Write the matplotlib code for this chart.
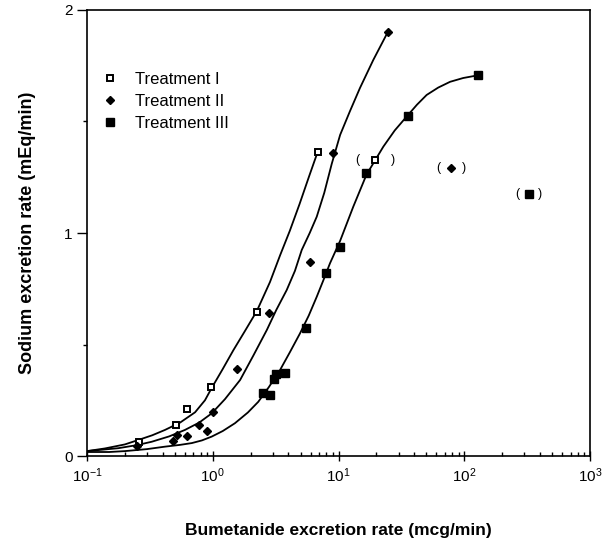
import matplotlib
matplotlib.use('Agg')
import matplotlib.pyplot as plt
from matplotlib.ticker import LogLocator, NullFormatter, FixedLocator

plt.rcParams['font.family'] = ['Liberation Sans', 'DejaVu Sans']
plt.rcParams['mathtext.fontset'] = 'custom'
plt.rcParams['mathtext.rm'] = 'Liberation Sans'

# measured points (bumetanide mcg/min, sodium mEq/min)
t1_x = [0.26, 0.507, 0.628, 0.968, 2.24, 6.84]
t1_y = [0.061, 0.139, 0.212, 0.309, 0.644, 1.365]
t2_x = [0.251, 0.485, 0.517, 0.628, 0.781, 0.895, 1.0, 1.57, 2.82, 5.93, 8.99, 24.6]
t2_y = [0.046, 0.069, 0.094, 0.090, 0.139, 0.112, 0.196, 0.390, 0.643, 0.869, 1.360, 1.900]
t3_x = [2.49, 2.85, 3.08, 3.17, 3.73, 5.52, 7.88, 10.2, 16.5, 35.5, 128]
t3_y = [0.284, 0.272, 0.344, 0.368, 0.371, 0.574, 0.819, 0.939, 1.268, 1.525, 1.707]

# excluded points shown in brackets
out_x = [19.6, 78.5, 325]
out_y = [1.327, 1.290, 1.174]

# fitted curves
c1_x = [0.1, 0.139, 0.2, 0.256, 0.33, 0.417, 0.55, 0.723, 0.867, 0.98, 1.2, 1.46, 1.8, 2.24,
        2.85, 3.43, 4.1, 4.9, 5.8, 6.84]
c1_y = [0.022, 0.034, 0.052, 0.072, 0.093, 0.117, 0.150, 0.196, 0.250, 0.305, 0.390, 0.475,
        0.560, 0.650, 0.780, 0.900, 1.010, 1.130, 1.250, 1.365]
c2_x = [0.1, 0.177, 0.25, 0.327, 0.45, 0.601, 0.78, 0.98, 1.25, 1.65, 2.1, 2.69, 3.2, 3.87,
        4.5, 5.10, 5.9, 6.71, 7.7, 8.83, 10.3, 12.3, 14.8, 18.9, 24.6]
c2_y = [0.022, 0.035, 0.049, 0.064, 0.088, 0.117, 0.150, 0.191, 0.255, 0.341, 0.450, 0.565,
        0.655, 0.744, 0.830, 0.924, 1.000, 1.073, 1.180, 1.310, 1.440, 1.545, 1.650, 1.776, 1.900]
c3_x = [0.1, 0.15, 0.2, 0.3, 0.417, 0.55, 0.681, 0.82, 0.98, 1.2, 1.5, 1.9, 2.3, 2.8, 3.43,
        4.1, 4.94, 5.8, 6.71, 7.6, 8.55, 10.3, 13.1, 16.7, 22.7, 28.0, 34.8, 42.0, 50.2, 62.0,
        77.1, 98.0, 128]
c3_y = [0.018, 0.018, 0.022, 0.031, 0.042, 0.050, 0.058, 0.070, 0.087, 0.112, 0.147, 0.195,
        0.243, 0.310, 0.386, 0.465, 0.550, 0.630, 0.714, 0.790, 0.864, 0.965, 1.118, 1.262,
        1.387, 1.460, 1.522, 1.575, 1.619, 1.652, 1.678, 1.695, 1.707]

fig = plt.figure(figsize=(6.03, 5.46), dpi=100)
ax = fig.add_axes([0.1443, 0.1648, 0.8342, 0.8169])

lw = 1.3
ax.plot(c1_x, c1_y, color='black', lw=lw)
ax.plot(c2_x, c2_y, color='black', lw=lw)
ax.plot(c3_x, c3_y, color='black', lw=lw)

ax.plot(t1_x, t1_y, 's', ms=5, mfc='white', mec='black', mew=1.4, ls='none', label='Treatment I')
ax.plot(t2_x, t2_y, 'D', ms=4.2, color='black', ls='none', label='Treatment II')
ax.plot(t3_x, t3_y, 's', ms=5.5, color='black', ls='none', label='Treatment III')

ax.plot(out_x[0], out_y[0], 's', ms=5, mfc='white', mec='black', mew=1.4)
ax.plot(out_x[1], out_y[1], 'D', ms=4.2, color='black')
ax.plot(out_x[2], out_y[2], 's', ms=5.5, color='black')
for ox, oy, gap in zip(out_x, out_y, [13, 9, 8]):
    ax.annotate('(', (ox, oy), xytext=(-gap, 0), textcoords='offset points',
                ha='center', va='center', fontsize=9)
    ax.annotate(')', (ox, oy), xytext=(gap, 0), textcoords='offset points',
                ha='center', va='center', fontsize=9)

ax.set_xscale('log')
ax.set_xlim(0.1, 1000)
ax.set_ylim(0, 2)
ax.xaxis.set_major_locator(LogLocator(base=10, numticks=10))
ax.xaxis.set_minor_locator(LogLocator(base=10, subs=range(2, 10), numticks=10))
ax.xaxis.set_minor_formatter(NullFormatter())
ax.yaxis.set_major_locator(FixedLocator([0, 1, 2]))
ax.yaxis.set_minor_locator(FixedLocator([0.5, 1.5]))
ax.set_yticklabels(['0', '1', '2'])

ax.tick_params(axis='x', which='major', direction='inout', length=7, width=1, labelsize=11, pad=4)
ax.tick_params(axis='x', which='minor', direction='in', length=3, width=1)
ax.tick_params(axis='y', which='major', direction='out', length=7, width=1, labelsize=11)
ax.tick_params(axis='y', which='minor', direction='out', length=3, width=1)
for s in ax.spines.values():
    s.set_linewidth(1.2)

ax.set_xlabel('Bumetanide excretion rate (mcg/min)', fontsize=12.5, fontweight='bold', labelpad=27)
ax.set_ylabel('Sodium excretion rate (mEq/min)', fontsize=13, fontweight='bold', labelpad=20)

ax.legend(loc='upper left', bbox_to_anchor=(0.0, 0.895), frameon=False, fontsize=12,
          handlelength=1.0, handletextpad=1.0, labelspacing=0.42, borderaxespad=0.5)

fig.savefig('out.png', dpi=100)
